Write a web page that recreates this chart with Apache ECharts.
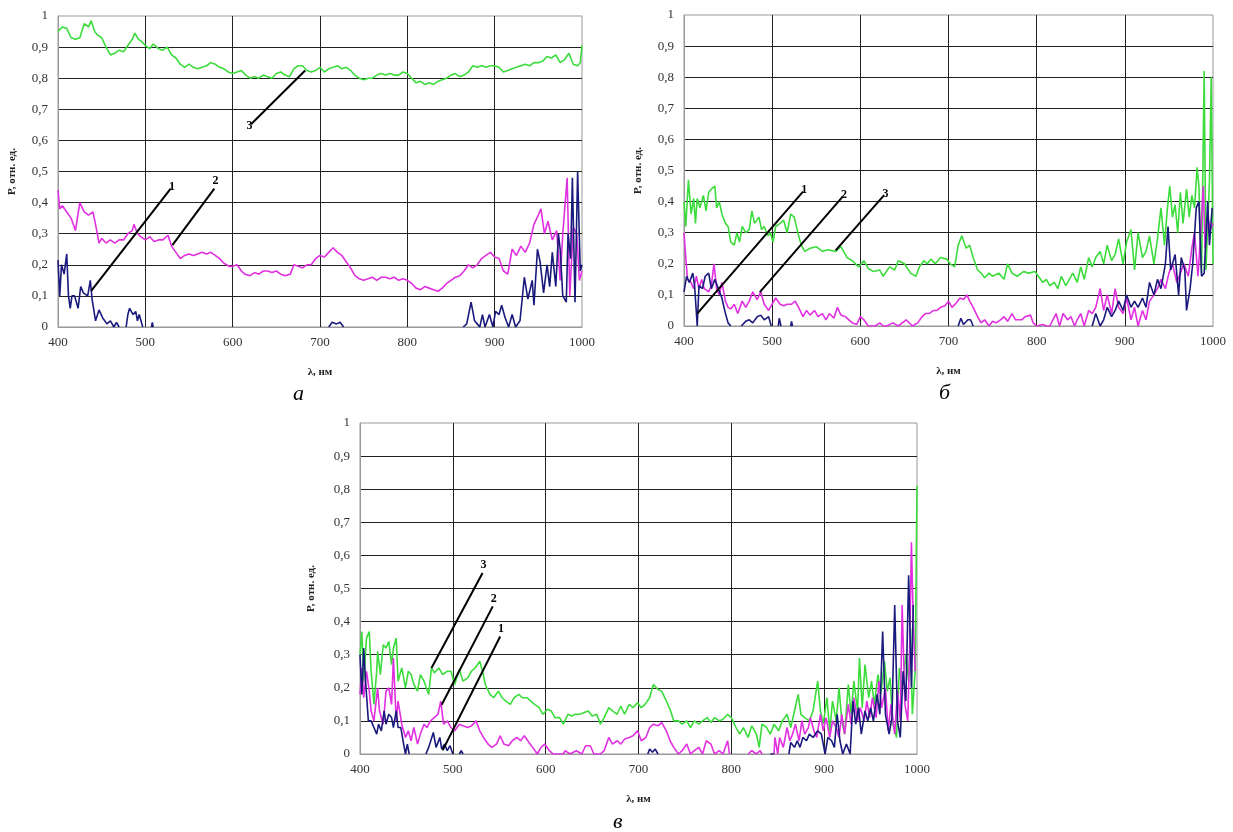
<!DOCTYPE html>
<html>
<head>
<meta charset="utf-8">
<script src="https://cdn.jsdelivr.net/npm/echarts@6/dist/echarts.min.js"></script>
<style>
  html, body { margin: 0; padding: 0; background: #fff; }
  #chart { width: 1233px; height: 832px; }
</style>
</head>
<body>
<div id="chart"></div>
<script>
// ---------- data: [wavelength nm, P] ----------
// panel а
const aNavy = [[400,0.215],[402,0.10],[404,0.20],[407,0.17],[410,0.235],[412,0.10],[414,0.06],[416,0.10],[419,0.10],[423,0.06],[426,0.13],[429,0.11],[434,0.10],[437,0.15],[439,0.09],[443,0.02],[447,0.055],[451,0.03],[456,0.01],[460,0.02],[464,0],[467,0.015],[470,0],[472,null],[478,0],[480,0.04],[482,0.06],[486,0.04],[489,0.05],[491,0.02],[493,0.04],[497,0],[500,null],[507,0],[508,0.015],[509,0],[600,null],[710,0],[714,0.015],[719,0.01],[723,0.015],[727,0],[800,null],[864,0],[868,0.01],[873,0.08],[877,0.02],[880,0.01],[883,0],[886,0.04],[889,0],[894,0.04],[898,0],[901,0.05],[905,0.04],[908,0.07],[912,0.03],[916,0],[920,0.04],[924,0],[929,0.02],[934,0.16],[938,0.09],[943,0.15],[945,0.07],[949,0.25],[952,0.21],[956,0.11],[960,0.20],[963,0.13],[966,0.24],[970,0.13],[973,0.30],[975,0.25],[978,0.10],[982,0.08],[984,0.30],[987,0.22],[989,0.48],[992,0.08],[995,0.50],[998,0.18],[1000,0.20]]
const aMagenta = [[400,0.44],[402,0.38],[405,0.39],[410,0.37],[415,0.35],[420,0.31],[425,0.40],[430,0.37],[435,0.36],[440,0.37],[443,0.33],[447,0.27],[450,0.285],[455,0.27],[460,0.28],[465,0.27],[470,0.28],[475,0.28],[480,0.30],[485,0.31],[487,0.33],[491,0.30],[495,0.29],[500,0.28],[505,0.29],[510,0.275],[515,0.28],[520,0.28],[526,0.295],[530,0.26],[535,0.24],[540,0.22],[545,0.23],[550,0.235],[555,0.23],[560,0.235],[565,0.24],[570,0.235],[575,0.24],[580,0.23],[585,0.22],[590,0.205],[596,0.195],[600,0.195],[605,0.20],[610,0.18],[614,0.17],[620,0.165],[625,0.175],[630,0.17],[635,0.18],[640,0.18],[645,0.175],[650,0.18],[655,0.17],[660,0.165],[666,0.17],[670,0.20],[675,0.195],[680,0.19],[685,0.20],[690,0.20],[695,0.22],[700,0.23],[705,0.225],[710,0.24],[715,0.255],[720,0.24],[725,0.23],[730,0.21],[735,0.19],[740,0.165],[745,0.155],[750,0.15],[755,0.155],[760,0.16],[765,0.15],[770,0.16],[775,0.16],[780,0.155],[785,0.16],[790,0.15],[795,0.155],[800,0.15],[805,0.14],[810,0.125],[815,0.12],[820,0.13],[825,0.125],[830,0.12],[835,0.115],[840,0.125],[845,0.14],[850,0.15],[855,0.16],[860,0.165],[865,0.18],[870,0.20],[875,0.19],[880,0.20],[885,0.22],[890,0.23],[895,0.24],[900,0.225],[905,0.22],[910,0.18],[915,0.17],[920,0.25],[925,0.23],[930,0.26],[935,0.24],[940,0.27],[945,0.33],[950,0.36],[953,0.38],[957,0.30],[961,0.34],[966,0.28],[971,0.31],[975,0.15],[978,0.30],[983,0.48],[986,0.10],[990,0.32],[994,0.30],[997,0.15],[1000,0.18]]
const aGreen = [[400,0.95],[405,0.965],[410,0.96],[415,0.93],[420,0.925],[425,0.93],[430,0.975],[435,0.965],[438,0.985],[442,0.95],[445,0.94],[450,0.93],[455,0.90],[460,0.875],[465,0.88],[470,0.89],[475,0.885],[480,0.905],[485,0.925],[488,0.945],[492,0.925],[495,0.92],[500,0.905],[505,0.895],[509,0.91],[515,0.895],[520,0.89],[525,0.90],[530,0.875],[535,0.865],[540,0.845],[545,0.835],[550,0.845],[555,0.835],[560,0.83],[565,0.835],[570,0.84],[575,0.85],[580,0.845],[585,0.835],[590,0.83],[595,0.82],[600,0.815],[605,0.82],[610,0.825],[615,0.81],[620,0.80],[625,0.805],[630,0.80],[635,0.81],[640,0.805],[645,0.80],[650,0.815],[655,0.82],[660,0.81],[665,0.805],[670,0.83],[675,0.84],[680,0.84],[685,0.825],[690,0.82],[695,0.825],[700,0.835],[705,0.82],[710,0.83],[715,0.835],[720,0.84],[725,0.83],[730,0.835],[735,0.825],[740,0.81],[745,0.80],[750,0.795],[755,0.80],[760,0.80],[765,0.81],[770,0.815],[775,0.81],[780,0.815],[785,0.81],[790,0.81],[795,0.82],[800,0.815],[805,0.80],[810,0.785],[815,0.79],[820,0.78],[825,0.785],[830,0.78],[835,0.79],[840,0.795],[845,0.80],[850,0.81],[855,0.815],[860,0.805],[865,0.81],[870,0.82],[875,0.84],[880,0.835],[885,0.84],[890,0.835],[895,0.84],[900,0.84],[905,0.835],[910,0.82],[915,0.825],[920,0.83],[925,0.835],[930,0.84],[935,0.845],[940,0.84],[945,0.85],[950,0.85],[955,0.855],[960,0.87],[965,0.865],[970,0.875],[975,0.85],[980,0.86],[985,0.88],[990,0.845],[995,0.84],[998,0.85],[1000,0.905]]

// panel б
const bNavy = [[400,0.11],[403,0.16],[406,0.14],[410,0.17],[412,0.13],[415,0],[417,0.13],[421,0.12],[424,0.16],[428,0.17],[431,0.12],[435,0.15],[439,0.12],[443,0.09],[447,0.04],[450,0.01],[453,0],[460,null],[465,0],[470,0.015],[474,0.02],[478,0.01],[483,0.03],[487,0.035],[491,0.02],[496,0.03],[499,0],[503,null],[507,0],[508,0.025],[510,0],[515,null],[521,0],[522,0.015],[523,0],[600,null],[711,0],[714,0.025],[717,0.005],[722,0.02],[725,0.02],[728,0],[800,null],[863,0],[867,0.04],[872,0],[876,0.02],[880,0.06],[885,0.03],[889,0.05],[893,0.08],[898,0.05],[902,0.10],[907,0.06],[911,0.08],[915,0.06],[920,0.09],[924,0.06],[928,0.14],[933,0.10],[937,0.15],[941,0.12],[946,0.20],[949,0.32],[952,0.18],[957,0.23],[961,0.10],[964,0.22],[968,0.18],[970,0.05],[974,0.12],[977,0.20],[981,0.38],[984,0.40],[987,0.16],[990,0.17],[994,0.40],[996,0.26],[999,0.38]]
const bMagenta = [[400,0.30],[402,0.22],[404,0.15],[408,0.14],[411,0.12],[414,0.16],[417,0.12],[420,0.15],[423,0.12],[428,0.11],[431,0.13],[434,0.20],[437,0.12],[440,0.10],[443,0.14],[447,0.08],[450,0.06],[453,0.055],[457,0.07],[461,0.04],[466,0.08],[470,0.06],[474,0.08],[478,0.11],[483,0.085],[487,0.11],[491,0.07],[496,0.05],[500,0.07],[504,0.09],[509,0.07],[513,0.065],[517,0.07],[522,0.07],[526,0.08],[530,0.06],[535,0.03],[539,0.05],[543,0.035],[548,0.05],[552,0.03],[557,0.04],[561,0.02],[565,0.04],[570,0.025],[574,0.06],[578,0.035],[583,0.03],[587,0.02],[591,0.01],[596,0.005],[600,0.03],[604,0.02],[609,0],[617,0],[622,0.01],[626,0],[630,0],[637,0.01],[643,0],[652,0.02],[659,0],[665,0.01],[670,0.03],[674,0.04],[678,0.04],[683,0.05],[687,0.05],[691,0.06],[696,0.065],[700,0.08],[704,0.06],[709,0.075],[713,0.09],[717,0.085],[721,0.10],[724,0.08],[728,0.06],[733,0.03],[737,0.01],[741,0.02],[746,0],[750,0.015],[754,0.01],[759,0.02],[763,0.03],[767,0.015],[772,0.04],[776,0.02],[783,0.02],[787,0.03],[793,0.035],[796,0.01],[800,0],[807,0.005],[811,0],[815,0],[822,0.04],[826,0],[830,0.04],[835,0.02],[839,0.03],[843,0],[846,0.02],[850,0.04],[854,0],[859,0.05],[863,0.04],[867,0.06],[872,0.12],[876,0.05],[880,0.10],[885,0.04],[889,0.12],[893,0.06],[898,0.04],[902,0.09],[907,0.02],[911,0.06],[915,0],[920,0.05],[924,0.02],[928,0.08],[933,0.10],[937,0.12],[941,0.15],[946,0.12],[950,0.17],[954,0.20],[959,0.14],[963,0.17],[967,0.20],[972,0.16],[976,0.25],[979,0.30],[983,0.16],[986,0.30],[989,0.45],[991,0.25],[994,0.35],[997,0.31],[1000,0.33]]
const bGreen = [[400,0.40],[402,0.32],[405,0.47],[408,0.36],[411,0.41],[413,0.33],[415,0.41],[418,0.38],[422,0.42],[425,0.37],[428,0.43],[431,0.44],[435,0.45],[437,0.38],[440,0.40],[443,0.36],[447,0.33],[450,0.32],[453,0.27],[457,0.26],[460,0.30],[463,0.27],[466,0.32],[470,0.30],[474,0.31],[477,0.37],[480,0.33],[485,0.35],[488,0.31],[491,0.32],[495,0.29],[498,0.30],[501,0.27],[504,0.32],[509,0.33],[513,0.34],[517,0.30],[521,0.36],[525,0.35],[530,0.29],[533,0.26],[537,0.24],[543,0.25],[550,0.255],[557,0.24],[563,0.245],[572,0.24],[578,0.255],[585,0.22],[591,0.21],[598,0.19],[604,0.21],[609,0.185],[615,0.175],[622,0.18],[626,0.16],[633,0.19],[639,0.18],[643,0.21],[650,0.20],[657,0.17],[663,0.16],[667,0.19],[672,0.21],[676,0.20],[680,0.215],[685,0.20],[691,0.22],[698,0.215],[702,0.20],[707,0.19],[711,0.26],[715,0.29],[720,0.25],[724,0.26],[728,0.22],[733,0.18],[737,0.17],[741,0.155],[746,0.17],[750,0.16],[757,0.17],[763,0.15],[767,0.20],[772,0.17],[778,0.16],[785,0.175],[791,0.17],[798,0.175],[802,0.16],[807,0.14],[811,0.15],[815,0.13],[820,0.14],[824,0.12],[828,0.16],[833,0.13],[837,0.15],[841,0.17],[846,0.14],[850,0.19],[854,0.15],[859,0.22],[863,0.19],[867,0.22],[872,0.24],[876,0.20],[880,0.26],[885,0.21],[889,0.23],[893,0.28],[898,0.20],[902,0.27],[907,0.31],[911,0.18],[915,0.30],[920,0.22],[924,0.24],[928,0.29],[933,0.20],[937,0.28],[941,0.38],[945,0.26],[948,0.37],[951,0.45],[954,0.35],[957,0.39],[960,0.30],[963,0.43],[966,0.33],[970,0.44],[973,0.35],[976,0.42],[979,0.38],[982,0.51],[984,0.45],[987,0.17],[990,0.82],[992,0.18],[996,0.47],[998,0.80],[1000,0.20]]

// panel в
const cNavy = [[400,0.30],[402,0.18],[404,0.32],[406,0.22],[409,0.10],[412,0.10],[415,0.08],[418,0.06],[420,0.09],[423,0.07],[426,0.13],[428,0.09],[431,0.12],[434,0.11],[436,0.08],[439,0.13],[441,0.08],[444,0.08],[447,0.03],[449,0],[451,0.03],[453,0],[460,null],[471,0],[474,0.02],[476,0.015],[479,0.065],[482,0.02],[486,0.05],[488,0.015],[491,0.03],[494,0.01],[497,0.025],[500,0],[503,null],[507,0],[509,0.01],[511,0],[600,null],[710,0],[712,0.015],[715,0.005],[718,0.015],[721,0],[800,null],[842,0],[844,0.005],[846,0],[850,null],[862,0],[864,0.035],[868,0.02],[871,0.04],[874,0.02],[877,0.05],[881,0.04],[884,0.06],[888,0.05],[893,0.07],[897,0.06],[901,0],[904,0.05],[908,0.04],[911,0.02],[914,0.12],[917,0.04],[920,0],[924,0.03],[928,0],[931,0.16],[934,0.09],[937,0.14],[940,0.06],[944,0.13],[947,0.10],[950,0.14],[953,0.10],[957,0.18],[960,0.12],[963,0.37],[966,0.12],[970,0.06],[973,0.11],[976,0.45],[979,0.10],[982,0.05],[985,0.25],[988,0.16],[991,0.54],[994,0.20],[996,0.45]]
const cMagenta = [[400,0.18],[402,0.26],[404,0.17],[407,0.25],[410,0.19],[412,0.13],[415,0.10],[419,0.20],[421,0.13],[425,0.09],[428,0.19],[431,0.20],[434,0.15],[436,0.29],[439,0.10],[441,0.16],[445,0.09],[449,0.05],[452,0.07],[455,0.04],[458,0.08],[462,0.03],[465,0.06],[469,0.09],[472,0.08],[476,0.10],[480,0.11],[484,0.12],[487,0.16],[490,0.09],[494,0.10],[498,0.08],[502,0.07],[507,0.09],[511,0.085],[516,0.08],[520,0.085],[525,0.10],[529,0.07],[533,0.05],[538,0.03],[542,0.02],[547,0.03],[551,0.055],[555,0.03],[560,0.025],[564,0.04],[569,0.05],[573,0.04],[577,0.055],[582,0.035],[586,0.02],[591,0],[595,0.02],[599,0.03],[604,0.01],[608,0],[619,0],[621,0.01],[626,0],[633,0.01],[639,0],[643,0.025],[648,0.025],[652,0],[659,0],[663,0.01],[668,0.05],[672,0.03],[677,0.04],[681,0.03],[685,0.045],[690,0.05],[694,0.055],[699,0.07],[703,0.04],[708,0.05],[712,0.08],[716,0.09],[721,0.085],[725,0.095],[730,0.07],[734,0.04],[738,0.02],[743,0],[747,0.01],[752,0.03],[756,0],[760,0.01],[765,0.02],[769,0],[773,0.04],[778,0.03],[782,0],[787,0.01],[791,0],[796,0.04],[798,0],[805,null],[818,0],[822,0.01],[827,0],[831,0.01],[833,0],[840,null],[846,0],[847,0.05],[850,0],[852,0.05],[856,0.02],[860,0.08],[863,0.04],[866,0.06],[869,0.09],[873,0.04],[876,0.10],[879,0.06],[883,0.08],[885,0.11],[889,0.07],[892,0.05],[896,0.12],[899,0.07],[902,0.11],[906,0.05],[909,0.10],[913,0.08],[916,0.05],[919,0.12],[922,0.06],[926,0.15],[929,0.09],[932,0.17],[936,0.10],[939,0.14],[943,0.10],[946,0.16],[949,0.11],[952,0.17],[956,0.11],[959,0.22],[962,0.14],[966,0.20],[969,0.07],[972,0.15],[976,0.06],[979,0.19],[982,0.10],[984,0.45],[987,0.15],[990,0.10],[992,0.30],[994,0.64],[996,0.40],[998,0.25]]
const cGreen = [[400,0.30],[402,0.37],[404,0.22],[407,0.35],[410,0.37],[412,0.25],[415,0.15],[418,0.25],[419,0.31],[422,0.24],[425,0.33],[428,0.32],[431,0.34],[434,0.27],[436,0.32],[439,0.35],[441,0.22],[445,0.26],[449,0.20],[452,0.25],[455,0.24],[458,0.21],[462,0.19],[465,0.24],[469,0.22],[474,0.18],[477,0.26],[480,0.245],[485,0.26],[489,0.24],[494,0.25],[498,0.25],[502,0.21],[507,0.255],[511,0.22],[516,0.23],[520,0.25],[524,0.26],[529,0.28],[532,0.25],[535,0.21],[540,0.18],[544,0.17],[549,0.19],[553,0.17],[557,0.16],[562,0.15],[566,0.17],[571,0.18],[575,0.17],[580,0.17],[584,0.16],[588,0.15],[593,0.14],[597,0.12],[602,0.135],[606,0.13],[610,0.11],[615,0.11],[619,0.09],[624,0.12],[628,0.115],[632,0.12],[637,0.12],[641,0.125],[646,0.13],[650,0.115],[655,0.12],[659,0.09],[663,0.11],[668,0.14],[672,0.13],[677,0.12],[681,0.145],[685,0.12],[690,0.15],[694,0.14],[699,0.155],[703,0.14],[707,0.15],[712,0.17],[716,0.21],[721,0.195],[725,0.19],[730,0.16],[734,0.135],[738,0.10],[743,0.10],[747,0.09],[752,0.10],[756,0.08],[760,0.10],[765,0.09],[769,0.10],[774,0.11],[778,0.095],[782,0.11],[787,0.10],[791,0.105],[796,0.12],[800,0.11],[805,0.08],[809,0.06],[813,0.08],[818,0.05],[822,0.085],[827,0.06],[830,0.02],[833,0.09],[838,0.08],[842,0.06],[846,0.09],[851,0.07],[855,0.10],[860,0.12],[864,0.08],[868,0.13],[872,0.18],[875,0.12],[879,0.11],[884,0.10],[888,0.13],[893,0.22],[896,0.13],[899,0.09],[903,0.17],[906,0.07],[909,0.16],[913,0.10],[916,0.20],[919,0.10],[922,0.06],[926,0.21],[929,0.12],[932,0.22],[936,0.13],[938,0.29],[941,0.14],[944,0.27],[948,0.17],[951,0.22],[954,0.15],[958,0.24],[961,0.18],[965,0.28],[968,0.19],[971,0.23],[974,0.09],[978,0.05],[981,0.26],[984,0.20],[988,0.30],[991,0.22],[993,0.38],[995,0.12],[998,0.25],[1000,0.81]]

// callout lines: [from point, to point (number label), label]
const aNotes = [[[438,0.116],[529,0.445],'1'],[[531,0.263],[579,0.445],'2'],[[683,0.825],[621,0.652],'3']]
const bNotes = [[[415,0.04],[535,0.432],'1'],[[486,0.109],[580,0.416],'2'],[[572,0.243],[627,0.421],'3']]
const cNotes = [[[489,0.011],[551,0.355],'1'],[[488,0.149],[543,0.446],'2'],[[477,0.26],[532,0.547],'3']]

const xTicks = [400, 500, 600, 700, 800, 900, 1000]

// ---------- chart ----------
const serif = '"Liberation Serif", "DejaVu Serif", serif'
const NAVY = '#1a1a7e'
const MAGENTA = '#e030e0'
const GREEN = '#3ddc3d'

const grids = [
  { left: 58, top: 16, width: 524, height: 311 },
  { left: 684, top: 15, width: 529, height: 311 },
  { left: 360, top: 423, width: 557, height: 331 }
]

function xAxisFor(i) {
  return {
    gridIndex: i,
    type: 'value',
    min: xTicks[0],
    max: xTicks[xTicks.length - 1],
    interval: 100,
    name: 'λ, нм',
    nameLocation: 'middle',
    nameGap: 40,
    nameTextStyle: { fontFamily: serif, fontWeight: 'bold', fontSize: 11, color: '#222' },
    axisLine: { lineStyle: { color: '#999', width: 1 } },
    axisTick: { show: false },
    axisLabel: { fontFamily: serif, fontSize: 13, color: '#333', margin: 9, formatter: v => String(v) },
    splitLine: { show: true, showMinLine: false, showMaxLine: false, lineStyle: { color: '#222', width: 1 } }
  }
}

function yAxisFor(i, gap) {
  return {
    gridIndex: i,
    type: 'value',
    min: 0,
    max: 1,
    interval: 0.1,
    name: 'P, отн. ед.',
    nameLocation: 'middle',
    nameGap: gap,
    nameRotate: 90,
    nameTextStyle: { fontFamily: serif, fontWeight: 'bold', fontSize: 11, color: '#222' },
    axisLine: { show: true, lineStyle: { color: '#999', width: 1 } },
    axisTick: { show: false },
    axisLabel: {
      fontFamily: serif, fontSize: 13, color: '#333', margin: 10,
      formatter: v => String(Math.round(v * 10) / 10).replace('.', ',')
    },
    splitLine: { show: true, showMinLine: false, showMaxLine: false, lineStyle: { color: '#222', width: 1 } }
  }
}

function lineSeries(i, data, color) {
  return {
    type: 'line',
    xAxisIndex: i,
    yAxisIndex: i,
    data: data,
    showSymbol: false,
    connectNulls: false,
    clip: true,
    silent: true,
    lineStyle: { color: color, width: 1.6 },
    itemStyle: { color: color },
    z: 3
  }
}

function notesSeries(i, notes) {
  return {
    type: 'line',
    xAxisIndex: i,
    yAxisIndex: i,
    data: [],
    silent: true,
    markLine: {
      silent: true,
      symbol: ['none', 'none'],
      animation: false,
      lineStyle: { color: '#000', width: 2, type: 'solid' },
      label: {
        show: true,
        position: 'end',
        distance: 2,
        fontFamily: serif,
        fontWeight: 'bold',
        fontSize: 12,
        color: '#000'
      },
      data: notes.map(n => [
        { coord: n[0] },
        { coord: n[1], label: { formatter: n[2] } }
      ])
    },
    z: 5
  }
}

const chart = echarts.init(document.getElementById('chart'))

const option = {
  animation: false,
  backgroundColor: '#fff',
  grid: grids.map(g => Object.assign({ show: true, borderColor: '#999', borderWidth: 1, backgroundColor: 'transparent' }, g)),
  xAxis: [xAxisFor(0), xAxisFor(1), xAxisFor(2)],
  yAxis: [yAxisFor(0, 40), yAxisFor(1, 40), yAxisFor(2, 43)],
  title: [
    { text: 'а', left: 288, top: 378 },
    { text: 'б', left: 934, top: 377 },
    { text: 'в', left: 608, top: 806 }
  ].map(t => Object.assign(t, {
    textStyle: { fontFamily: serif, fontStyle: 'italic', fontWeight: 'normal', fontSize: 22, color: '#000' }
  })),
  series: [
    lineSeries(0, aGreen, GREEN),
    lineSeries(0, aMagenta, MAGENTA),
    lineSeries(0, aNavy, NAVY),
    notesSeries(0, aNotes),
    lineSeries(1, bGreen, GREEN),
    lineSeries(1, bMagenta, MAGENTA),
    lineSeries(1, bNavy, NAVY),
    notesSeries(1, bNotes),
    lineSeries(2, cGreen, GREEN),
    lineSeries(2, cMagenta, MAGENTA),
    lineSeries(2, cNavy, NAVY),
    notesSeries(2, cNotes)
  ]
}

chart.setOption(option)
</script>
</body>
</html>
